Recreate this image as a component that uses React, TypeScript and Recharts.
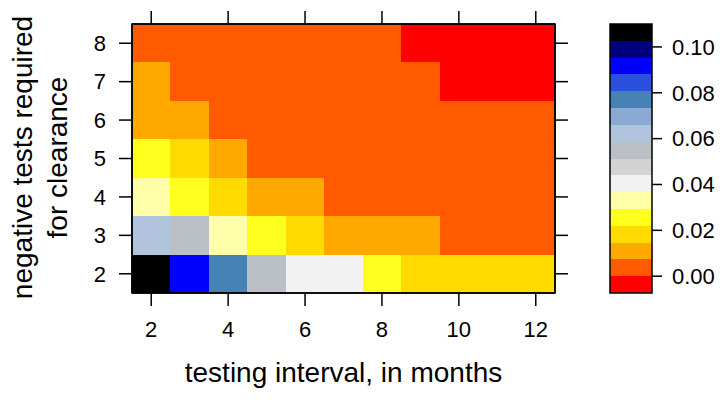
import React from 'react';
import { ScatterChart, Scatter, XAxis, YAxis, ReferenceArea, Label } from 'recharts';

// testing interval (months) and negative tests required
const intervals = [2, 3, 4, 5, 6, 7, 8, 9, 10, 11, 12];
const testsRequired = [2, 3, 4, 5, 6, 7, 8];

// one row per "tests required" value, columns follow intervals
const row2 = [0.105, 0.092, 0.077, 0.055, 0.041, 0.039, 0.025, 0.019, 0.018, 0.017, 0.016];
const row3 = [0.062, 0.054, 0.033, 0.025, 0.018, 0.013, 0.011, 0.0095, 0.006, 0.005, 0.004];
const row4 = [0.031, 0.024, 0.017, 0.012, 0.0095, 0.0065, 0.005, 0.004, 0.003, 0.0025, 0.002];
const row5 = [0.026, 0.018, 0.011, 0.0065, 0.005, 0.004, 0.003, 0.0025, 0.002, 0.0015, 0.001];
const row6 = [0.013, 0.0095, 0.006, 0.004, 0.003, 0.002, 0.0015, 0.001, 0.001, 0.0008, 0.0005];
const row7 = [0.0095, 0.005, 0.003, 0.002, 0.0015, 0.001, 0.0008, 0.0005, 0, 0, 0];
const row8 = [0.006, 0.004, 0.003, 0.002, 0.0012, 0.0008, 0.0004, 0, 0, 0, 0];
const rows = [row2, row3, row4, row5, row6, row7, row8];

const xTicks = [2, 4, 6, 8, 10, 12];
const yTicks = [2, 3, 4, 5, 6, 7, 8];
const legendTicks = [0, 0.02, 0.04, 0.06, 0.08, 0.1];

// colour key, lowest level first (level 0 = values <= 0)
const levelColors = [
  '#FF0000', '#FF5A00', '#FFA800', '#FFDB00', '#FFFF1E', '#FFFFAA', '#F2F2F2', '#D3D3D3',
  '#BBBFC6', '#B0C4DE', '#8AAAD3', '#4682B4', '#2B50DE', '#0000FF', '#000080', '#000000',
];
const step = 0.11 / 15;

const FONT = '"Liberation Sans", Arial, Helvetica, sans-serif';

const colorFor = (v: number) => {
  if (v <= 0) return levelColors[0];
  const k = Math.min(levelColors.length - 1, Math.ceil(v / step - 1e-9));
  return levelColors[k];
};

const cells = rows.flatMap((vals, r) =>
  vals.map((v, c) => ({ x: intervals[c], y: testsRequired[r], v }))
);

const tickStyle = { fill: '#000', fontSize: 22, fontFamily: FONT };
const noLabel = () => '';
const Empty = () => <g />;

const XTitle = (props: any) => {
  const vb = props.viewBox;
  return (
    <text x={vb.x + vb.width / 2} y={vb.y + 89} textAnchor="middle" fontSize={28} fontFamily={FONT} fill="#000">
      testing interval, in months
    </text>
  );
};

const YTitle = (props: any) => {
  const vb = props.viewBox;
  const cy = vb.y + vb.height / 2 - 1;
  return (
    <g fontSize={28} fontFamily={FONT} fill="#000">
      <text x={32} y={cy} textAnchor="middle" transform={`rotate(-90 32 ${cy})`}>
        negative tests required
      </text>
      <text x={67} y={cy} textAnchor="middle" transform={`rotate(-90 67 ${cy})`}>
        for clearance
      </text>
    </g>
  );
};

const Heatmap = () => (
  <ScatterChart width={600} height={402} margin={{ top: 23, right: 44, bottom: 59, left: 0 }}>
    <XAxis
      xAxisId="b" type="number" dataKey="x" domain={[1.5, 12.5]} ticks={xTicks}
      height={50} tickSize={13} tickMargin={15} stroke="#000" strokeWidth={1.5} tick={tickStyle}
    >
      <Label content={XTitle} />
    </XAxis>
    <XAxis
      xAxisId="t" orientation="top" type="number" dataKey="x" domain={[1.5, 12.5]} ticks={xTicks}
      height={1} tickSize={13} tickMargin={0} stroke="#000" strokeWidth={1.5}
      tick={tickStyle} tickFormatter={noLabel}
    />
    <YAxis
      yAxisId="l" type="number" dataKey="y" domain={[1.5, 8.5]} ticks={yTicks}
      width={132} tickSize={13} tickMargin={13} stroke="#000" strokeWidth={1.5} tick={tickStyle}
    >
      <Label content={YTitle} />
    </YAxis>
    <YAxis
      yAxisId="r" orientation="right" type="number" dataKey="y" domain={[1.5, 8.5]} ticks={yTicks}
      width={1} tickSize={13} tickMargin={0} stroke="#000" strokeWidth={1.5}
      tick={tickStyle} tickFormatter={noLabel}
    />
    {cells.map((c) => (
      <ReferenceArea
        key={`${c.x}-${c.y}`} xAxisId="b" yAxisId="l"
        x1={c.x - 0.5} x2={c.x + 0.5} y1={c.y - 0.5} y2={c.y + 0.5}
        fill={colorFor(c.v)} fillOpacity={1} stroke="none" shapeRendering="crispEdges"
      />
    ))}
    <Scatter xAxisId="b" yAxisId="l" data={cells} isAnimationActive={false} shape={Empty} />
    <Scatter xAxisId="t" yAxisId="r" data={cells} isAnimationActive={false} shape={Empty} />
    <ReferenceArea
      xAxisId="b" yAxisId="l" x1={1.5} x2={12.5} y1={1.5} y2={8.5}
      fill="none" stroke="#000" strokeWidth={1.5}
    />
  </ScatterChart>
);

const levelBands = levelColors.map((color, k) => ({ color, lo: (k - 1) * step, hi: k * step }));

const ColorKey = () => (
  <ScatterChart width={146} height={402} margin={{ top: 24, right: 0, bottom: 109, left: 30 }}>
    <XAxis type="number" dataKey="x" domain={[0, 1]} hide height={0} />
    <YAxis
      type="number" dataKey="y" orientation="right" domain={[-step, 15 * step]} ticks={legendTicks}
      width={74} tickSize={10} tickMargin={10} stroke="#000" strokeWidth={1.5} axisLine={false}
      tick={tickStyle} tickFormatter={(v: number) => v.toFixed(2)}
    />
    {levelBands.map((b) => (
      <ReferenceArea
        key={b.color} x1={0} x2={1} y1={b.lo} y2={b.hi}
        fill={b.color} fillOpacity={1} stroke="none" shapeRendering="crispEdges"
      />
    ))}
    <Scatter data={[{ x: 0.5, y: 0 }]} isAnimationActive={false} shape={Empty} />
    <ReferenceArea x1={0} x2={1} y1={-step} y2={15 * step} fill="none" stroke="#000" strokeWidth={1.5} />
  </ScatterChart>
);

export default function App() {
  return (
    <div style={{ position: 'absolute', left: 0, top: 0, width: 726, height: 402, background: '#fff' }}>
      <div style={{ position: 'absolute', left: 0, top: 0 }}>
        <Heatmap />
      </div>
      <div style={{ position: 'absolute', left: 580, top: 0 }}>
        <ColorKey />
      </div>
    </div>
  );
}
